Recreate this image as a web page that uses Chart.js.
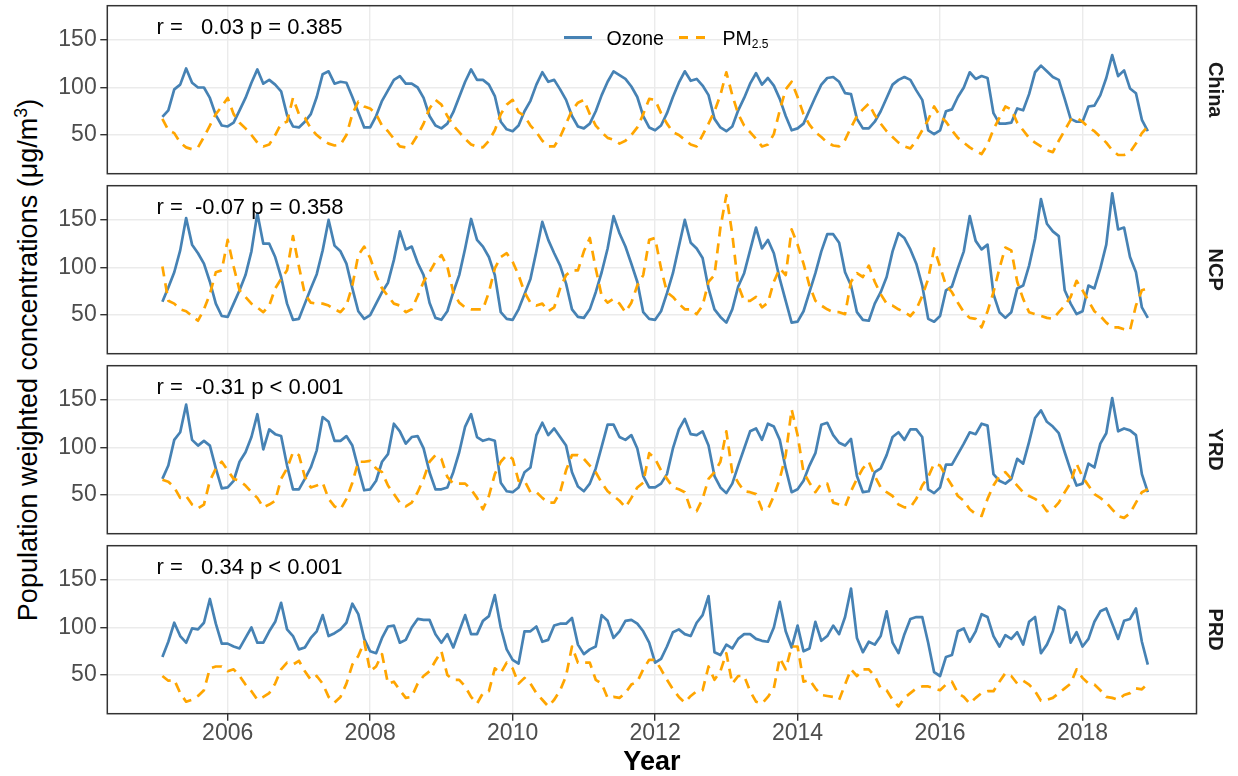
<!DOCTYPE html>
<html>
<head>
<meta charset="utf-8">
<script src="https://cdn.jsdelivr.net/npm/chart.js@4.4.0/dist/chart.umd.min.js"></script>
<style>
  html, body { margin: 0; padding: 0; background: #ffffff; }
  #wrap { position: relative; width: 1238px; height: 776px; overflow: hidden;
          font-family: "Liberation Sans", Arial, Helvetica, sans-serif; }
  #wrap canvas { position: absolute; left: 0; }
  #ytitle { position: absolute; left: 28px; top: 359.7px; white-space: nowrap;
            font-size: 27px; line-height: 1; color: #000;
            transform: translate(-50%, -50%) rotate(-90deg); }
  #ytitle sup { font-size: 0.66em; line-height: 0; }
  .key-line { position: absolute; height: 2.7px; }
  .key-text { position: absolute; font-size: 19.5px; line-height: 24px; color: #000; white-space: nowrap; }
  .key-text sub { font-size: 12px; line-height: 0; vertical-align: -3px; }
</style>
</head>
<body>
<div id="wrap">
  <div id="ytitle">Population weighted concentrations (μg/m<sup>3</sup>)</div>
</div>
<script>
// Monthly population-weighted ozone and PM2.5, Feb 2005 – Dec 2018 (µg/m³)
const regions = ['China', 'NCP', 'YRD', 'PRD'];
const corrText = [
  'r =   0.03 p = 0.385',
  'r =  -0.07 p = 0.358',
  'r =  -0.31 p < 0.001',
  'r =   0.34 p < 0.001'
];
const firstYear = 2005;
const firstMonth = 2;
const yearTicks = [2006, 2008, 2010, 2012, 2014, 2016, 2018];
const minorYearTicks = [2005, 2007, 2009, 2011, 2013, 2015, 2017, 2019];
const valueTicks = [50, 100, 150];
const minorValueTicks = [25, 75, 125, 175];
const seriesNames = ['Ozone', 'PM2.5'];

const ozoneChina = [
  69, 76, 98, 103, 120, 105, 100, 100, 89, 71, 60,
  59, 63, 76, 89, 105, 119, 104, 108, 103, 96, 71, 59,
  58, 64, 72, 90, 114, 117, 104, 106, 105, 90, 74, 58,
  58, 70, 86, 97, 108, 112, 104, 104, 100, 89, 70, 60,
  57, 62, 74, 90, 106, 119, 108, 108, 103, 91, 64, 56,
  54, 60, 75, 86, 103, 116, 106, 108, 98, 87, 70, 59,
  57, 62, 75, 92, 106, 117, 113, 109, 101, 90, 70, 58,
  55, 60, 73, 90, 105, 117, 107, 109, 102, 92, 67, 58,
  54, 59, 76, 89, 104, 115, 103, 110, 102, 88, 70, 55,
  57, 62, 76, 90, 103, 110, 111, 106, 94, 93, 67, 57,
  57, 64, 75, 89, 103, 108, 111, 108, 97, 87, 55, 51,
  55, 75, 77, 90, 100, 116, 109, 112, 110, 73, 62, 62,
  63, 78, 76, 93, 116, 123, 117, 111, 108, 88, 67, 64,
  64, 80, 81, 92, 110, 134, 112, 118, 99, 94, 66, 54
];
const pmChina = [
  67, 55, 52, 42, 37, 35, 37, 48, 60, 72, 80,
  89, 72, 63, 57, 50, 42, 38, 40, 50, 62, 64, 89,
  72, 68, 57, 50, 45, 41, 39, 40, 50, 72, 85, 80,
  78, 72, 60, 54, 46, 38, 37, 40, 50, 62, 78, 87,
  82, 70, 60, 53, 46, 40, 38, 37, 44, 55, 72, 82,
  87, 74, 70, 60, 53, 44, 38, 38, 48, 62, 76, 84,
  87, 72, 60, 53, 47, 45, 41, 44, 50, 58, 72, 88,
  87, 73, 62, 53, 50, 45, 40, 38, 50, 62, 75, 92,
  116, 92, 72, 60, 53, 46, 38, 40, 51, 76, 98, 106,
  90, 72, 61, 53, 48, 42, 39, 38, 45, 58, 70, 77,
  83, 71, 62, 54, 48, 42, 38, 36, 44, 55, 66, 80,
  70, 64, 55, 47, 42, 37, 33, 30, 40, 56, 68, 80,
  77, 63, 55, 47, 42, 38, 34, 32, 44, 55, 66, 68,
  64, 58, 54, 48, 42, 34, 29, 29, 32, 41, 52, 59
];
const ozoneNCP = [
  64, 79, 95, 118, 152, 124, 115, 104, 85, 62, 49,
  48, 62, 76, 92, 117, 157, 125, 125, 111, 90, 62, 45,
  46, 62, 78, 93, 118, 150, 123, 117, 104, 78, 54, 46,
  50, 62, 74, 84, 108, 138, 119, 122, 105, 92, 63, 47,
  45, 54, 74, 92, 120, 151, 129, 122, 111, 92, 53, 46,
  45, 56, 72, 88, 117, 148, 129, 115, 102, 83, 56, 48,
  47, 56, 74, 95, 120, 154, 136, 122, 104, 85, 53, 46,
  45, 54, 73, 94, 122, 150, 126, 120, 110, 78, 56, 48,
  42, 56, 80, 94, 118, 142, 120, 129, 115, 88, 65, 42,
  43, 54, 74, 94, 117, 135, 135, 126, 95, 81, 53, 45,
  44, 62, 74, 90, 117, 136, 131, 119, 104, 81, 46, 43,
  49, 76, 80, 99, 117, 154, 128, 119, 124, 72, 53, 47,
  53, 78, 81, 102, 130, 172, 146, 138, 133, 76, 62, 51,
  54, 81, 78, 99, 124, 178, 140, 142, 111, 95, 58, 47
];
const pmNCP = [
  101, 65, 62, 56, 54, 49, 44, 56, 72, 95, 97,
  129, 101, 76, 69, 62, 58, 53, 60, 78, 88, 97, 133,
  101, 72, 63, 62, 62, 60, 56, 53, 60, 81, 113, 122,
  110, 92, 78, 70, 62, 60, 53, 56, 70, 85, 95, 106,
  113, 101, 74, 63, 58, 56, 56, 56, 74, 99, 111, 115,
  106, 92, 74, 63, 60, 62, 54, 58, 78, 92, 97, 97,
  117, 131, 99, 70, 63, 67, 62, 53, 63, 81, 92, 129,
  131, 99, 74, 69, 62, 56, 56, 51, 60, 85, 92, 142,
  176, 135, 81, 65, 65, 69, 58, 63, 85, 99, 92, 140,
  124, 104, 81, 65, 60, 56, 53, 53, 51, 85, 94, 90,
  102, 85, 72, 62, 60, 56, 53, 49, 56, 70, 88, 120,
  101, 81, 74, 63, 53, 47, 46, 37, 54, 74, 99, 121,
  118, 85, 67, 53, 51, 49, 47, 46, 53, 60, 69, 86,
  76, 65, 54, 49, 42, 37, 37, 35, 34, 60, 76, 78
];
const ozoneYRD = [
  67, 81, 108, 116, 145, 108, 102, 107, 102, 78, 57,
  58, 65, 85, 95, 111, 135, 98, 119, 114, 112, 81, 56,
  56, 67, 79, 97, 132, 127, 107, 107, 112, 102, 78, 55,
  56, 65, 85, 93, 125, 117, 104, 111, 112, 99, 74, 56,
  56, 58, 74, 95, 122, 135, 111, 107, 109, 107, 63, 54,
  53, 58, 74, 79, 113, 126, 113, 120, 111, 102, 74, 59,
  54, 62, 78, 101, 124, 124, 111, 108, 113, 99, 70, 58,
  58, 62, 72, 99, 119, 130, 114, 113, 117, 102, 70, 58,
  52, 62, 81, 99, 117, 120, 108, 125, 122, 108, 78, 53,
  56, 65, 81, 94, 124, 126, 113, 105, 102, 109, 70, 53,
  54, 74, 78, 92, 111, 116, 108, 119, 119, 111, 56, 52,
  58, 82, 82, 93, 104, 116, 114, 125, 123, 72, 65, 62,
  67, 88, 83, 106, 131, 139, 127, 122, 115, 95, 76, 60,
  62, 83, 79, 104, 115, 152, 117, 120, 118, 113, 72, 53
];
const pmYRD = [
  66, 64, 58, 47, 49, 40, 36, 40, 65, 78, 85,
  76, 67, 65, 60, 53, 47, 37, 40, 44, 67, 78, 95,
  92, 69, 58, 60, 63, 46, 38, 35, 46, 63, 85, 85,
  86, 78, 74, 60, 51, 42, 38, 42, 53, 67, 85, 92,
  88, 69, 62, 62, 62, 56, 47, 35, 49, 72, 85, 92,
  88, 65, 65, 53, 53, 47, 42, 42, 53, 76, 92, 92,
  88, 81, 74, 63, 54, 49, 44, 37, 47, 58, 63, 94,
  88, 76, 67, 58, 56, 53, 35, 33, 46, 67, 74, 85,
  117, 74, 63, 54, 53, 51, 35, 35, 49, 67, 92, 140,
  113, 74, 63, 53, 62, 62, 42, 40, 38, 54, 67, 78,
  85, 70, 58, 53, 49, 40, 37, 37, 46, 60, 69, 83,
  81, 70, 60, 49, 44, 35, 30, 28, 46, 60, 70, 74,
  67, 60, 53, 49, 46, 42, 33, 35, 42, 53, 63, 83,
  69, 60, 51, 47, 42, 35, 28, 26, 31, 42, 53, 56
];
const ozonePRD = [
  69, 85, 105, 91, 84, 99, 98, 105, 130, 104, 83,
  83, 80, 78, 89, 100, 84, 84, 96, 106, 126, 98, 91,
  77, 79, 89, 96, 113, 91, 94, 98, 105, 125, 114, 88,
  75, 73, 89, 101, 102, 84, 87, 100, 109, 108, 108, 93,
  84, 93, 79, 96, 113, 93, 93, 107, 112, 134, 100, 77,
  66, 62, 96, 96, 101, 85, 87, 102, 104, 104, 110, 82,
  72, 77, 80, 113, 107, 89, 96, 107, 108, 104, 96, 84,
  63, 67, 80, 95, 98, 93, 91, 105, 113, 133, 74, 71,
  82, 78, 88, 93, 93, 88, 86, 85, 100, 127, 96, 79,
  102, 75, 78, 106, 86, 91, 102, 93, 111, 141, 89, 74,
  85, 82, 91, 117, 84, 73, 93, 109, 111, 111, 84, 53,
  49, 69, 71, 96, 99, 85, 96, 114, 111, 91, 80, 92,
  88, 95, 82, 106, 111, 73, 82, 96, 122, 118, 84, 95,
  80, 88, 106, 117, 120, 104, 88, 107, 109, 120, 85, 61
];
const pmPRD = [
  49, 44, 45, 31, 22, 24, 28, 34, 57, 59, 59,
  54, 56, 49, 40, 33, 24, 27, 31, 41, 56, 63, 61,
  65, 54, 45, 49, 41, 27, 21, 27, 41, 61, 70, 85,
  54, 59, 72, 41, 43, 34, 26, 27, 41, 49, 54, 65,
  75, 50, 45, 45, 38, 27, 20, 31, 33, 57, 52, 63,
  57, 41, 47, 41, 31, 24, 17, 24, 34, 49, 80, 63,
  63, 63, 45, 41, 26, 27, 26, 31, 40, 43, 56, 66,
  66, 56, 45, 35, 27, 21, 28, 33, 34, 59, 45, 54,
  73, 41, 49, 49, 33, 22, 20, 27, 36, 68, 56, 80,
  80, 43, 45, 36, 29, 28, 27, 24, 40, 56, 49, 56,
  56, 49, 36, 34, 24, 17, 26, 31, 36, 38, 38, 36,
  34, 40, 43, 31, 27, 20, 26, 31, 33, 33, 43, 52,
  49, 41, 44, 40, 33, 23, 24, 26, 31, 36, 41, 56,
  47, 41, 40, 34, 27, 26, 24, 29, 31, 36, 35, 41
];

const ozoneByRegion = [ozoneChina, ozoneNCP, ozoneYRD, ozonePRD];
const pmByRegion = [pmChina, pmNCP, pmYRD, pmPRD];

// ---- layout of the four stacked panels ----
const PANEL_LEFT = 107.3, PANEL_RIGHT = 1196.5, PANEL_HEIGHT = 168;
const PANEL_TOPS = [5.7, 185.7, 365.7, 545.7];
const X_MIN = 2004.31, X_MAX = 2019.60;
const Y_MIN = 9.35, Y_MAX = 186.0;
const FONT = '"Liberation Sans", Arial, Helvetica, sans-serif';
const OZONE_COLOR = '#4682B4', PM_COLOR = '#FFA500';

Chart.defaults.font.family = FONT;

// month index -> decimal year (first of each month)
const toPoints = vals => vals.map((v, k) => ({ x: firstYear + (firstMonth - 1 + k) / 12, y: v }));
const gridYears = [...minorYearTicks, ...yearTicks].sort((a, b) => a - b);
const gridValues = [...minorValueTicks, ...valueTicks].sort((a, b) => a - b);
const isMajorYear = c => !!(c.tick && yearTicks.includes(c.tick.value));
const isMajorValue = c => !!(c.tick && valueTicks.includes(c.tick.value));

// keep the plot area exactly where the layout padding puts it
const noLabelOverflow = s => { s.paddingTop = 0; s.paddingBottom = 0; s.paddingLeft = 0; s.paddingRight = 0; };

// panel frame, correlation note and the facet strip label
const panelDecor = {
  id: 'panelDecor',
  afterDraw(chart, args, opts) {
    const { ctx, chartArea: a, scales: { x, y } } = chart;
    ctx.save();
    ctx.strokeStyle = '#333333';
    ctx.lineWidth = 1.5;
    ctx.strokeRect(a.left, a.top, a.right - a.left, a.bottom - a.top);

    ctx.fillStyle = '#000000';
    ctx.font = '22px ' + FONT;
    ctx.textAlign = 'left';
    ctx.textBaseline = 'middle';
    ctx.fillText(opts.stat, x.getPixelForValue(2005), y.getPixelForValue(163));

    ctx.translate(1215, (a.top + a.bottom) / 2);
    ctx.rotate(Math.PI / 2);
    ctx.fillStyle = '#1A1A1A';
    ctx.font = 'bold 20px ' + FONT;
    ctx.textAlign = 'center';
    ctx.textBaseline = 'middle';
    ctx.fillText(opts.strip, 0, 0);
    ctx.restore();
  }
};

const wrap = document.getElementById('wrap');

regions.forEach((name, i) => {
  const last = i === regions.length - 1;
  const canvasTop = Math.floor(PANEL_TOPS[i]) - 4;
  const padTop = PANEL_TOPS[i] - canvasTop;
  const height = last ? 776 - canvasTop : Math.ceil(padTop + PANEL_HEIGHT + 4);
  const padBottom = last ? 0 : height - padTop - PANEL_HEIGHT;
  const xAxisHeight = last ? height - padTop - PANEL_HEIGHT : 0;

  const canvas = document.createElement('canvas');
  canvas.width = 1238;
  canvas.height = height;
  canvas.style.top = canvasTop + 'px';
  wrap.appendChild(canvas);

  const lineCommon = { pointRadius: 0, tension: 0, fill: false, borderJoinStyle: 'round', borderCapStyle: 'butt' };

  new Chart(canvas, {
    type: 'line',
    data: {
      datasets: [
        { label: seriesNames[1], data: toPoints(pmByRegion[i]), borderColor: PM_COLOR,
          borderWidth: 2.7, borderDash: [10, 7], order: 0, ...lineCommon },
        { label: seriesNames[0], data: toPoints(ozoneByRegion[i]), borderColor: OZONE_COLOR,
          borderWidth: 2.7, order: 1, ...lineCommon }
      ]
    },
    options: {
      responsive: false,
      animation: false,
      events: [],
      layout: { autoPadding: false, padding: { left: 0, right: 1238 - PANEL_RIGHT, top: padTop, bottom: padBottom } },
      plugins: {
        legend: { display: false },
        tooltip: { enabled: false },
        panelDecor: { strip: name, stat: corrText[i] }
      },
      scales: {
        x: {
          type: 'linear', min: X_MIN, max: X_MAX,
          afterBuildTicks: s => { s.ticks = gridYears.map(v => ({ value: v })); },
          afterFit: s => { s.height = xAxisHeight; noLabelOverflow(s); },
          border: { display: false },
          grid: {
            color: '#EBEBEB',
            lineWidth: c => isMajorYear(c) ? 1.4 : 0.7,
            drawTicks: last, tickLength: 7, tickWidth: 1.4,
            tickColor: c => isMajorYear(c) ? '#333333' : 'rgba(0,0,0,0)'
          },
          ticks: {
            display: last, autoSkip: false, maxRotation: 0, minRotation: 0, padding: 0,
            color: '#4D4D4D', font: { family: FONT, size: 23, lineHeight: 1.1 },
            callback: v => yearTicks.includes(v) ? String(v) : undefined
          },
          title: {
            display: last, text: 'Year', color: '#000000', padding: 0,
            font: { family: FONT, size: 27, weight: 'bold', lineHeight: 1 }
          }
        },
        y: {
          type: 'linear', min: Y_MIN, max: Y_MAX,
          afterBuildTicks: s => { s.ticks = gridValues.map(v => ({ value: v })); },
          afterFit: s => { s.width = PANEL_LEFT; noLabelOverflow(s); },
          border: { display: false },
          grid: {
            color: '#EBEBEB',
            lineWidth: c => isMajorValue(c) ? 1.4 : 0.7,
            drawTicks: true, tickLength: 7, tickWidth: 1.4,
            tickColor: c => isMajorValue(c) ? '#333333' : 'rgba(0,0,0,0)'
          },
          ticks: {
            autoSkip: false, padding: 3.6, color: '#4D4D4D',
            font: { family: FONT, size: 23, lineHeight: 1.1 },
            callback: v => valueTicks.includes(v) ? String(v) : undefined
          }
        }
      }
    },
    plugins: [panelDecor]
  });
});

// key inside the top panel
const key = [
  { type: 'line', left: 564.3, width: 27.4, bg: OZONE_COLOR },
  { type: 'text', left: 606.5, html: 'Ozone' },
  { type: 'line', left: 679, width: 28,
    bg: 'repeating-linear-gradient(90deg, ' + PM_COLOR + ' 0 9px, transparent 9px 17px)' },
  { type: 'text', left: 722.5, html: 'PM<sub>2.5</sub>' }
];
key.forEach(k => {
  const el = document.createElement('div');
  if (k.type === 'line') {
    el.className = 'key-line';
    el.style.left = k.left + 'px';
    el.style.top = '36px';
    el.style.width = k.width + 'px';
    el.style.background = k.bg;
  } else {
    el.className = 'key-text';
    el.style.left = k.left + 'px';
    el.style.top = '26px';
    el.innerHTML = k.html;
  }
  wrap.appendChild(el);
});
</script>
</body>
</html>
